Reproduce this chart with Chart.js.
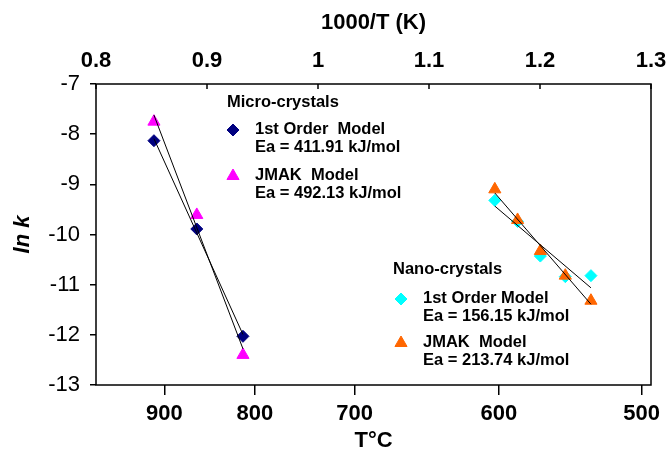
<!DOCTYPE html>
<html><head><meta charset="utf-8">
<script src="https://cdn.jsdelivr.net/npm/chart.js@4.4.1/dist/chart.umd.min.js"></script>
<style>html,body{margin:0;padding:0;background:#fff}#c{display:block}</style>
</head><body>
<canvas id="c" width="669" height="457"></canvas>
<script>
// Tick values / labels
const invTTicks = [0.8, 0.9, 1.0, 1.1, 1.2, 1.3];
const lnkTicks = [-7, -8, -9, -10, -11, -12, -13];
const tempLabels = ['900', '800', '700', '600', '500'];
const tempTickPos = [0.8615, 0.9432, 1.0330, 1.1630, 1.2915]; // positions on 1000/T scale

// Micro-crystals (1000/T, ln k)
const microX = [0.8522, 0.8908, 0.9324];
const micro1stY = [-8.13, -9.89, -12.03];
const microJmakY = [-7.75, -9.61, -12.40];
// Nano-crystals
const nanoX = [1.1593, 1.1798, 1.2003, 1.2228, 1.2459];
const nano1stY = [-9.32, -9.74, -10.43, -10.84, -10.82];
const nanoJmakY = [-9.10, -9.71, -10.33, -10.82, -11.32];

const FONT = '"Liberation Sans", Arial, sans-serif';
const pts = (xs, ys) => xs.map((x, i) => ({x, y: ys[i]}));
function fitLine(xs, ys) {
  const n = xs.length;
  const mx = xs.reduce((a, b) => a + b, 0) / n, my = ys.reduce((a, b) => a + b, 0) / n;
  let sxy = 0, sxx = 0;
  xs.forEach((x, i) => { sxy += (x - mx) * (ys[i] - my); sxx += (x - mx) * (x - mx); });
  const b = sxy / sxx, a = my - b * mx;
  const x0 = Math.min(...xs), x1 = Math.max(...xs);
  return [{x: x0, y: a + b * x0}, {x: x1, y: a + b * x1}];
}
const trend = (xs, ys) => ({type: 'line', data: fitLine(xs, ys), borderColor: '#000', borderWidth: 1,
  pointRadius: 0, showLine: true, fill: false, order: 0});

const C_NAVY = '#000080', C_MAG = '#FF00FF', C_CYAN = '#00FFFF', C_ORANGE = '#FF6600';

const legendItems = [
  {title: 'Micro-crystals', items: [
    {style: 'rectRot', r: 6, color: C_NAVY, l1: '1st Order  Model', l2: 'Ea = 411.91 kJ/mol'},
    {style: 'triangle', r: 7, color: C_MAG, l1: 'JMAK  Model', l2: 'Ea = 492.13 kJ/mol'}]},
  {title: 'Nano-crystals', items: [
    {style: 'rectRot', r: 6, color: C_CYAN, l1: '1st Order Model', l2: 'Ea = 156.15 kJ/mol'},
    {style: 'triangle', r: 7, color: C_ORANGE, l1: 'JMAK  Model', l2: 'Ea = 213.74 kJ/mol'}]}
];
const legendPos = [{tx: 227, ty: 107, mx: 233, tx2: 255, y1: 134, y2: 180}, {tx: 393, ty: 274, mx: 401, tx2: 423, y1: 303, y2: 347}];

const decor = {
  id: 'decor',
  afterDraw(chart) {
    const ctx = chart.ctx, ca = chart.chartArea, sx = chart.scales.x;
    ctx.save();
    // frame
    ctx.strokeStyle = '#000'; ctx.lineWidth = 1.5;
    ctx.strokeRect(ca.left, ca.top, ca.right - ca.left, ca.bottom - ca.top);
    // inward top ticks
    invTTicks.forEach(v => {
      const x = sx.getPixelForValue(v);
      ctx.beginPath(); ctx.moveTo(x, ca.top); ctx.lineTo(x, ca.top + 5); ctx.stroke();
    });
    // axis titles
    ctx.fillStyle = '#000'; ctx.textAlign = 'center'; ctx.textBaseline = 'middle';
    ctx.font = 'bold 22px ' + FONT;
    ctx.fillText('1000/T (K)', (ca.left + ca.right) / 2, 23);
    ctx.fillText('T°C', (ca.left + ca.right) / 2, 441);
    ctx.save();
    ctx.translate(23, (ca.top + ca.bottom) / 2);
    ctx.rotate(-Math.PI / 2);
    ctx.font = 'italic bold 22px ' + FONT;
    ctx.fillText('ln k', 0, 0);
    ctx.restore();
    // legends
    ctx.textAlign = 'left'; ctx.textBaseline = 'alphabetic';
    legendItems.forEach((g, gi) => {
      const p = legendPos[gi];
      ctx.font = 'bold 16.5px ' + FONT;
      ctx.fillStyle = '#000';
      ctx.fillText(g.title, p.tx, p.ty);
      [p.y1, p.y2].forEach((yb, k) => {
        const it = g.items[k];
        ctx.fillStyle = it.color; ctx.strokeStyle = it.color; ctx.lineWidth = 1;
        Chart.helpers.drawPoint(ctx, {pointStyle: it.style, radius: it.r, borderWidth: 1}, p.mx, yb - 4);
        ctx.fillStyle = '#000';
        ctx.fillText(it.l1, p.tx2, yb);
        ctx.fillText(it.l2, p.tx2, yb + 17.5);
      });
    });
    ctx.restore();
  }
};

const noPad = s => { s.paddingLeft = 0; s.paddingRight = 0; };

new Chart(document.getElementById('c'), {
  type: 'scatter',
  data: {
    datasets: [
      trend(microX, micro1stY), trend(microX, microJmakY), trend(nanoX, nano1stY), trend(nanoX, nanoJmakY),
      {data: pts(microX, micro1stY), pointStyle: 'rectRot', radius: 6, backgroundColor: C_NAVY, borderColor: C_NAVY, order: 2},
      {data: pts(microX, microJmakY), pointStyle: 'triangle', radius: 7, backgroundColor: C_MAG, borderColor: C_MAG, order: 3},
      {data: pts(nanoX, nano1stY), pointStyle: 'rectRot', radius: 6, backgroundColor: C_CYAN, borderColor: C_CYAN, order: 3},
      {data: pts(nanoX, nanoJmakY), pointStyle: 'triangle', radius: 7, backgroundColor: C_ORANGE, borderColor: C_ORANGE, order: 2}
    ]
  },
  options: {
    responsive: false, animation: false, devicePixelRatio: 1,
    layout: {padding: {left: 0, right: 18, top: 0, bottom: 0}},
    plugins: {legend: {display: false}, tooltip: {enabled: false}},
    scales: {
      x: {
        type: 'linear', position: 'top', min: 0.8, max: 1.3,
        afterBuildTicks: s => { s.ticks = invTTicks.map(v => ({value: v})); },
        afterFit: s => { s.height = 84; noPad(s); },
        ticks: {color: '#000', font: {family: FONT, size: 22, weight: 'bold'}, padding: 2, maxRotation: 0,
          callback: v => String(Math.round(v * 10) / 10)},
        grid: {display: false}, border: {display: false}
      },
      x2: {
        type: 'linear', position: 'bottom', min: 0.8, max: 1.3,
        afterBuildTicks: s => { s.ticks = tempTickPos.map(v => ({value: v})); },
        afterFit: s => { s.height = 72; noPad(s); },
        ticks: {color: '#000', font: {family: FONT, size: 22, weight: 'bold'}, padding: 6, maxRotation: 0,
          callback: (v, i) => tempLabels[i]},
        grid: {display: true, drawOnChartArea: false, drawTicks: true, tickLength: 10, color: '#000', lineWidth: 1.5},
        border: {display: false}
      },
      y: {
        type: 'linear', position: 'left', min: -13, max: -7,
        afterBuildTicks: s => { s.ticks = lnkTicks.map(v => ({value: v})); },
        afterFit: s => { s.width = 96; s.paddingTop = 0; s.paddingBottom = 0; },
        ticks: {color: '#000', font: {family: FONT, size: 22}, padding: 10, callback: v => String(v)},
        grid: {display: true, drawOnChartArea: false, drawTicks: true, tickLength: 6, color: '#000', lineWidth: 1.5},
        border: {display: false}
      }
    }
  },
  plugins: [decor]
});
</script>
</body></html>
